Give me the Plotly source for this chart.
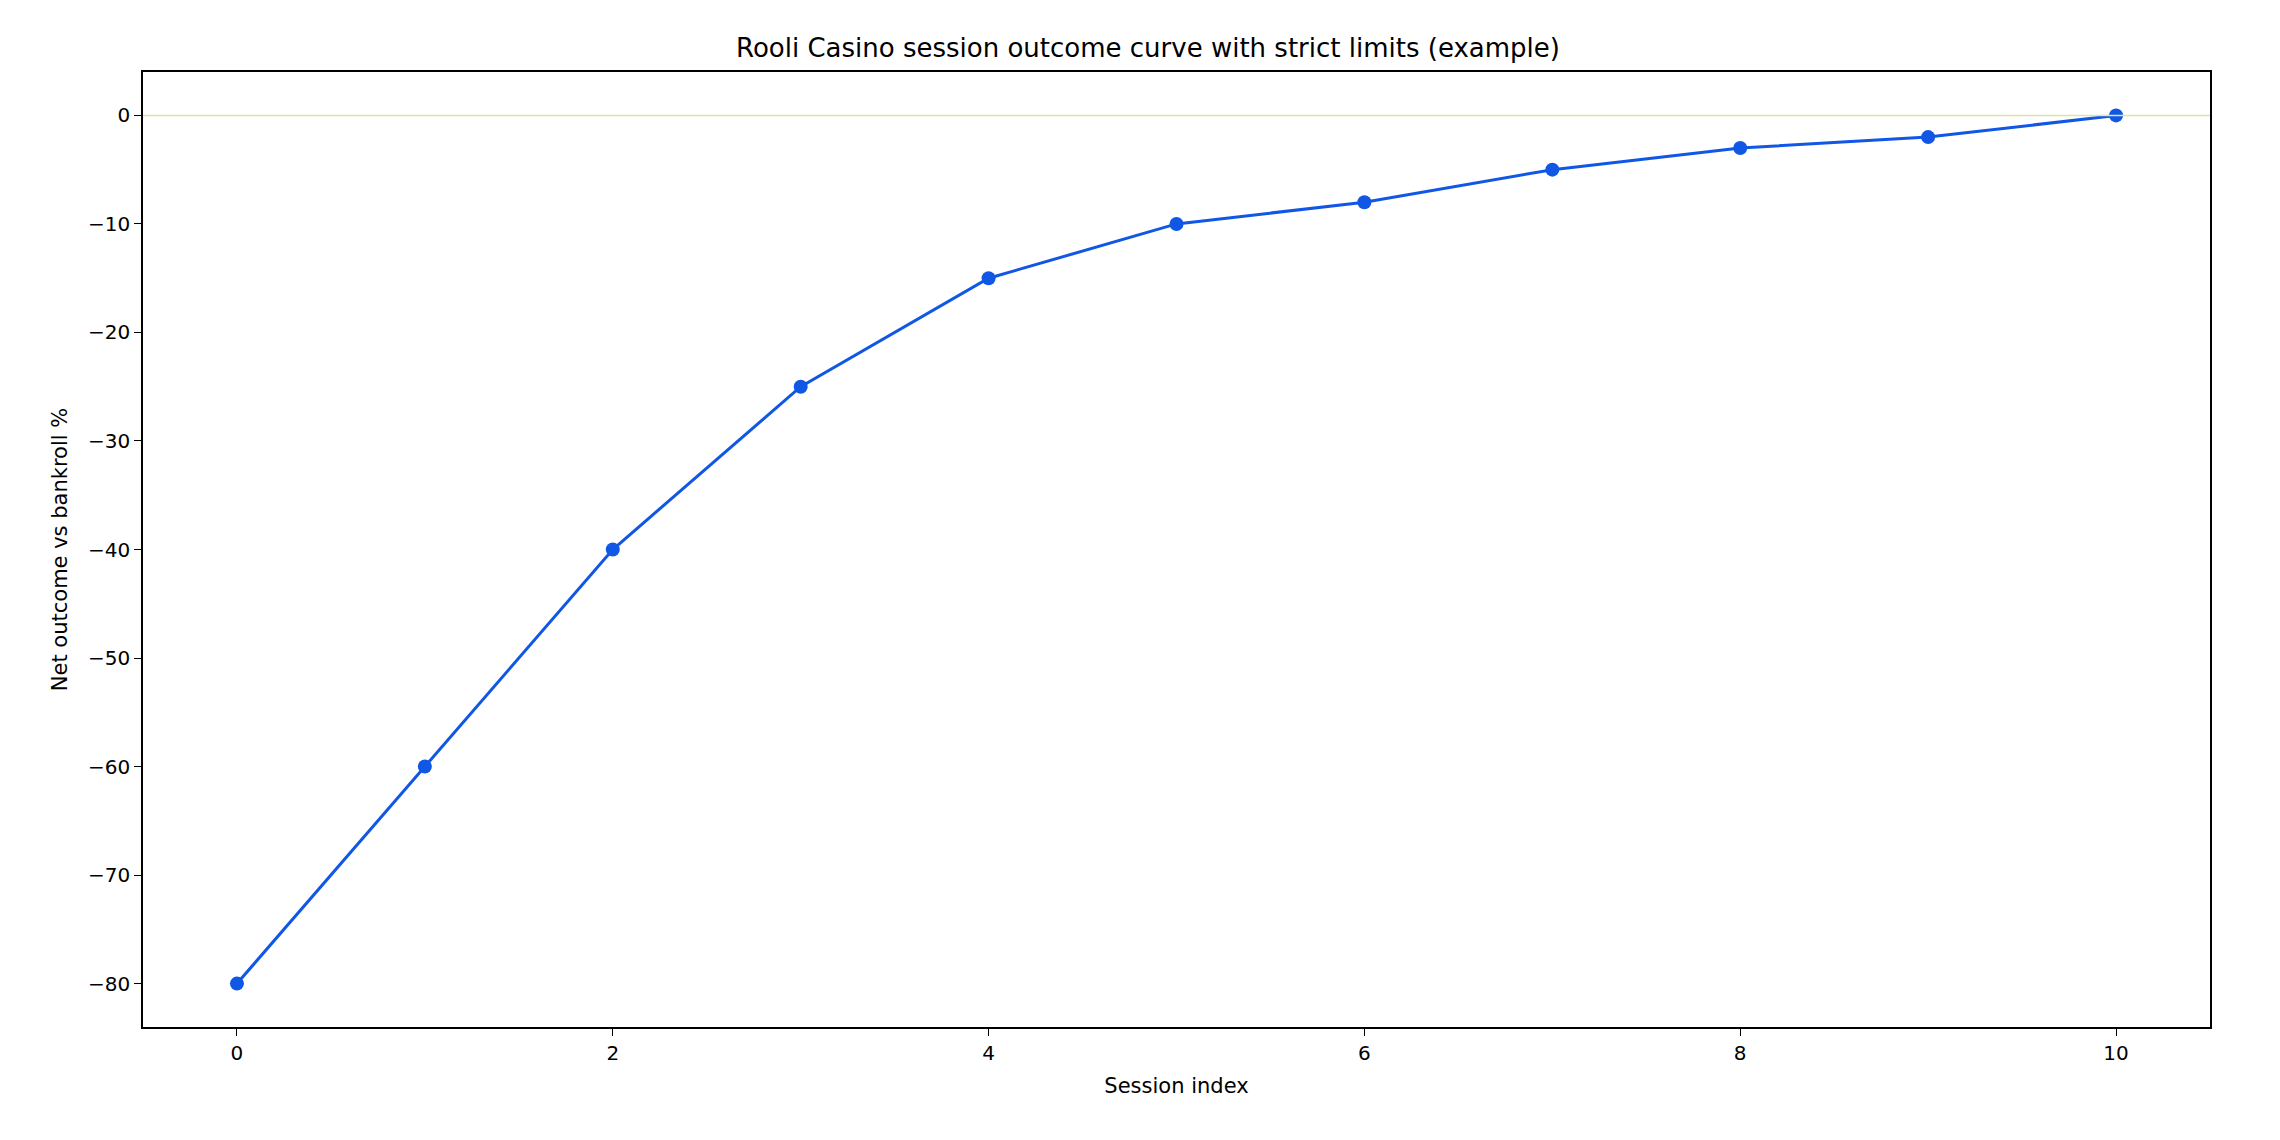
import plotly.graph_objects as go

sessions = list(range(11))
net_outcome = [-80, -60, -40, -25, -15, -10, -8, -5, -3, -2, 0]

fig = go.Figure()

# zero reference line
fig.add_hline(y=0, line=dict(color='#d9e6a6', width=1.5))

fig.add_trace(go.Scatter(x=sessions, y=net_outcome, mode='lines+markers',
                         line=dict(color='#1157e6', width=3),
                         marker=dict(color='#1157e6', size=14)))

axis_style = dict(showgrid=False, zeroline=False, showline=True, mirror=True,
                  linecolor='black', linewidth=1.5, ticks='outside', ticklen=7,
                  tickcolor='black', tickfont=dict(size=20, color='black'))

fig.update_layout(
    width=2280, height=1140,
    title=dict(text='Rooli Casino session outcome curve with strict limits (example)',
               x=0.5, y=0.973, xanchor='center', font=dict(size=26, color='black')),
    font=dict(family='DejaVu Sans', color='black'),
    plot_bgcolor='white', paper_bgcolor='white',
    showlegend=False,
    margin=dict(l=135, r=78, t=64, b=121),
    xaxis=dict(title=dict(text='Session index', font=dict(size=21)),
               range=[-0.5, 10.5], tickvals=[0, 2, 4, 6, 8, 10], **axis_style),
    yaxis=dict(title=dict(text='Net outcome vs bankroll %', font=dict(size=21)),
               range=[-84, 4], tickvals=[0, -10, -20, -30, -40, -50, -60, -70, -80],
               ticktext=['0', '−10', '−20', '−30', '−40', '−50', '−60', '−70', '−80'],
               **axis_style),
)

fig.write_html("out.html")
